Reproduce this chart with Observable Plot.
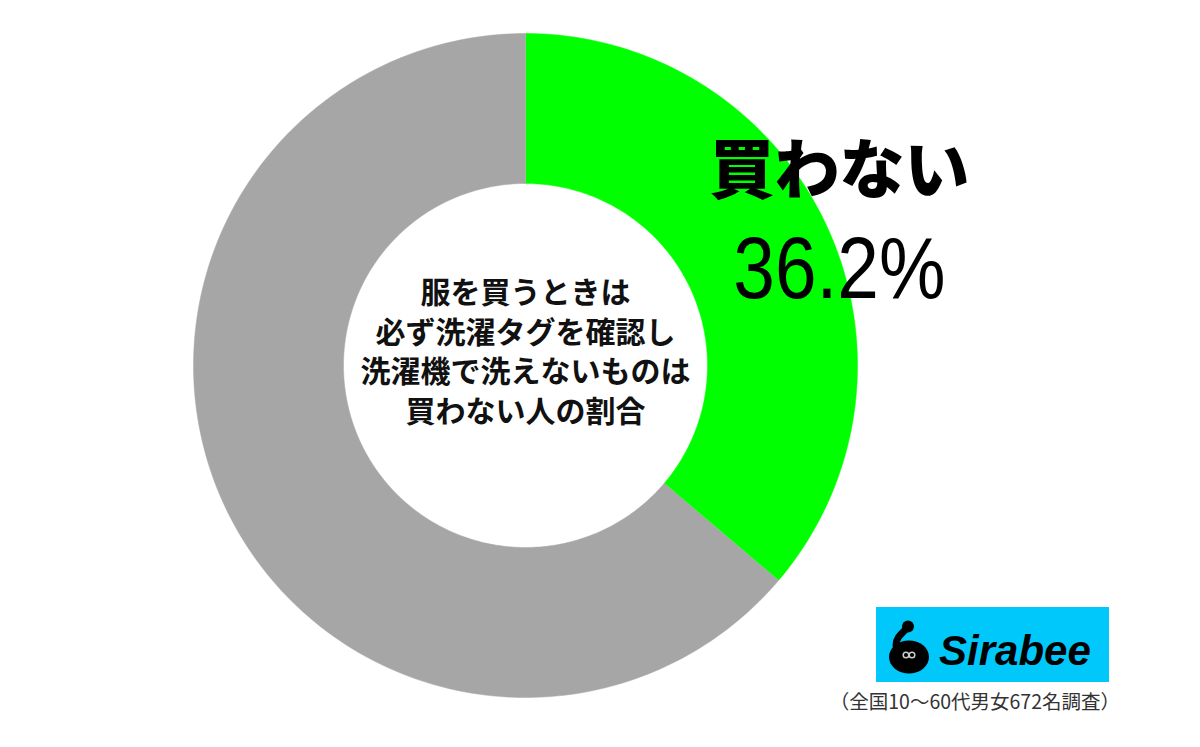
<!DOCTYPE html>
<html>
<head>
<meta charset="utf-8">
<script src="https://cdn.jsdelivr.net/npm/d3@7"></script>
<script src="https://cdn.jsdelivr.net/npm/@observablehq/plot@0.6"></script>
<style>
  html, body { margin: 0; padding: 0; background: #fff; }
  #wrap { position: relative; width: 1200px; height: 747px; overflow: hidden; }
  #logo { position: absolute; left: 876px; top: 607px; width: 233px; height: 75px; background: #00c8fa; }
  #caption { position: absolute; right: 80px; top: 686px; font-family: "Noto Sans CJK JP", sans-serif; font-size: 19.5px; color: #333; white-space: nowrap; }
</style>
</head>
<body>
<div id="wrap">
  <div id="chart"></div>
  <div id="logo">
    <svg width="233" height="75" viewBox="0 0 233 75">
      <circle cx="32" cy="19.5" r="6" fill="#000"/>
      <path d="M30 22 C 25 27, 20 31, 20 38" fill="none" stroke="#000" stroke-width="7" stroke-linecap="round"/>
      <ellipse cx="33" cy="50" rx="20" ry="16.5" fill="#000"/>
      <circle cx="30" cy="48" r="2.8" fill="none" stroke="#ccc" stroke-width="1.5"/>
      <circle cx="36" cy="48" r="2.8" fill="none" stroke="#ccc" stroke-width="1.5"/>
      <text x="63" y="58" font-family="Liberation Sans, Arial, sans-serif" font-weight="bold" font-style="italic" font-size="42" fill="#000">Sirabee</text>
    </svg>
  </div>
  <div id="caption">（全国10〜60代男女672名調査）</div>
</div>
<script>
// ---- data ----
const categories = ["買わない", "その他"];
const values = [36.2, 63.8];
const colors = ["#00ff00", "#a6a6a6"];
const centerLines = ["服を買うときは", "必ず洗濯タグを確認し", "洗濯機で洗えないものは", "買わない人の割合"];
const labelName = "買わない";
const labelValue = "36.2%";

// ---- geometry (donut built from values) ----
const cx = 525, cy = 365, R = 332;
const rOuter = 1, rInner = 182 / R;
const total = d3.sum(values);
const polys = [];
let acc = 0;
values.forEach((v, i) => {
  const a0 = acc / total * 2 * Math.PI;
  acc += v;
  const a1 = acc / total * 2 * Math.PI;
  const n = Math.max(2, Math.ceil((a1 - a0) / (Math.PI / 180)));
  for (let k = 0; k <= n; k++) {
    const a = a0 + (a1 - a0) * k / n;
    polys.push({x: rOuter * Math.sin(a), y: rOuter * Math.cos(a), cat: categories[i]});
  }
  for (let k = n; k >= 0; k--) {
    const a = a0 + (a1 - a0) * k / n;
    polys.push({x: rInner * Math.sin(a), y: rInner * Math.cos(a), cat: categories[i]});
  }
});
const midA = values[0] / total * Math.PI; // mid-angle of first slice
const lab = {x: 1.042 * Math.sin(midA), y: 1.042 * Math.cos(midA)};
const lineStep = 39.5 / R;
const centerY = 12.5 / R;

const chart = Plot.plot({
  width: 1200,
  height: 747,
  margin: 0,
  x: {domain: [-1, 1], range: [cx - R, cx + R], axis: null},
  y: {domain: [-1, 1], range: [cy + R, cy - R], axis: null},
  color: {domain: categories, range: colors},
  style: {background: "#fff"},
  marks: [
    Plot.line(polys, {x: "x", y: "y", z: "cat", fill: "cat", stroke: "cat", strokeWidth: 0.5, curve: "linear"}),
    Plot.text(centerLines, {x: () => 0, y: (d, i) => centerY - (i - 1.5) * lineStep, text: d => d, fontSize: 30, fontWeight: "bold", fill: "#111", fontFamily: "'Liberation Sans', 'Noto Sans CJK JP', sans-serif"}),
    Plot.text([labelName], {x: () => lab.x, y: () => lab.y, text: d => d, dy: -48, fontSize: 65, fontWeight: 900, fill: "#000", fontFamily: "Noto Sans CJK JP"}),
    Plot.text([labelValue], {x: () => lab.x, y: () => lab.y, text: d => d, dy: 50, fontSize: 88, fill: "#000", fontFamily: "Liberation Sans, Arial, sans-serif", className: "pct"})
  ]
});
document.getElementById("chart").appendChild(chart);

// narrow the percentage figure horizontally around its own centre
const pctG = chart.querySelector("g.pct") || chart.querySelector(".pct");
if (pctG) {
  const bb = pctG.getBBox();
  const mx = bb.x + bb.width / 2;
  const wrapper = document.createElementNS("http://www.w3.org/2000/svg", "g");
  wrapper.setAttribute("transform", `translate(${mx},0) scale(0.85,1) translate(${-mx},0)`);
  pctG.parentNode.insertBefore(wrapper, pctG);
  wrapper.appendChild(pctG);
}
</script>
</body>
</html>
